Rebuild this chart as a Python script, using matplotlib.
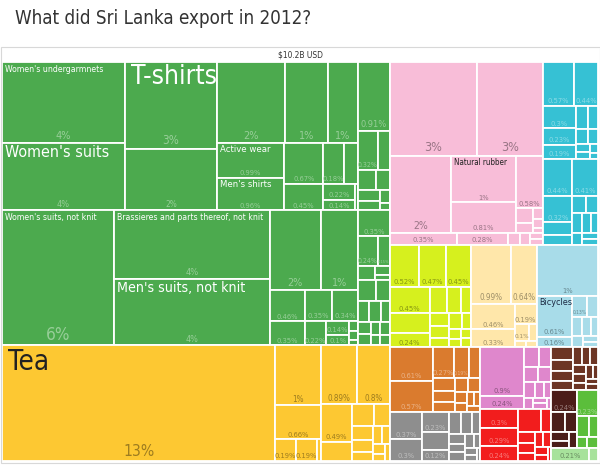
import matplotlib
matplotlib.use("Agg")
import matplotlib.pyplot as plt
import matplotlib.colors as mcolors
from matplotlib.patches import Rectangle

plt.rcParams['font.family'] = ['DejaVu Sans']
plt.rcParams['font.stretch'] = 'condensed'

TITLE = "What did Sri Lanka export in 2012?"
TOTAL_LABEL = "$10.2B USD"

# =========================
# DATA  (share of total exports, %)
# =========================

# textiles
knit_values = [4.17, 3.5, 3.35, 2.36, 2.30, 1.46, 1.03, 1.0, 0.91, 0.68, 0.43, 0.36, 0.24, 0.22, 0.14, 0.03]
knit_pcts = ["4%", "4%", "3%", "2%", "2%", "1%", "1%", "0.99%", "0.96%", "0.67%", "0.45%", "0.18%", "", "0.22%", "0.14%", ""]
knit_names = {0: "Women's undergarmnets", 1: "Women's suits", 2: "T-shirts", 7: "Active wear", 8: "Men's shirts"}

woven_values = [6.34, 4.51, 4.35, 1.71, 1.25, 0.46, 0.35, 0.35, 0.34, 0.22, 0.14, 0.1, 0.04, 0.03, 0.02]
woven_pcts = ["6%", "4%", "4%", "2%", "1%", "0.46%", "0.35%", "0.35%", "0.34%", "0.22%", "0.14%", "0.1%", "", "", ""]
woven_names = {0: "Women's suits, not knit", 1: "Brassieres and parts thereof, not knit", 2: "Men's suits, not knit"}

tex_a_values = [0.91, 0.32, 0.2, 0.15, 0.12, 0.1, 0.08, 0.05, 0.03]
tex_a_pcts = ["0.91%", "0.32%", "", "", "", "", "", "", ""]
tex_b_values = [0.35, 0.24, 0.15, 0.1, 0.06, 0.03]
tex_b_pcts = ["0.35%", "0.24%", "0.15%", "", "", ""]
tex_c_values = [0.15, 0.12, 0.1, 0.1, 0.08, 0.07, 0.06, 0.05, 0.05, 0.04, 0.04]

# vegetable products
tea_values = [13.32, 1.16, 0.66, 0.19, 0.19, 0.04]
tea_pcts = ["13%", "1%", "0.66%", "0.19%", "0.19%", ""]
tea_names = {0: "Tea"}
veg_values = [0.89, 0.81, 0.49, 0.25, 0.2, 0.15, 0.12, 0.1, 0.08, 0.07, 0.06, 0.05, 0.04, 0.03]
veg_pcts = ["0.89%", "0.8%", "0.49%"]

# rubber / plastics
rubber_values = [3.47, 2.6, 1.98, 1.26, 0.83, 0.6, 0.1, 0.07, 0.05, 0.04, 0.02]
rubber_pcts = ["3%", "3%", "2%", "1%", "0.81%", "0.58%"]
rubber_names = {3: "Natural rubber"}
plastic_values = [0.34, 0.26, 0.06, 0.05, 0.04, 0.03]
plastic_pcts = ["0.35%", "0.28%"]

# machines
mach_a_values = [0.57, 0.44, 0.3, 0.23, 0.19, 0.12, 0.1, 0.08, 0.06, 0.05, 0.04, 0.03, 0.02]
mach_a_pcts = ["0.57%", "0.44%", "0.3%", "0.23%", "0.19%"]
mach_b_values = [0.44, 0.41, 0.32, 0.15, 0.12, 0.1, 0.09, 0.08, 0.07, 0.06, 0.05, 0.04, 0.04]
mach_b_pcts = ["0.44%", "0.41%", "0.32%"]

# smaller sectors
lime_values = [0.52, 0.47, 0.45, 0.45, 0.33, 0.24, 0.2, 0.15, 0.12, 0.1, 0.1, 0.08, 0.08, 0.06, 0.05, 0.04, 0.04, 0.04]
lime_pcts = ["0.52%", "0.47%", "0.45%", "0.45%", "", "0.24%"]
tan_values = [0.99, 0.64, 0.46, 0.33, 0.19, 0.1, 0.05, 0.03, 0.03]
tan_pcts = ["0.99%", "0.64%", "0.46%", "0.33%", "0.19%", "0.1%"]
transport_values = [1.32, 0.61, 0.16, 0.13, 0.1, 0.08, 0.07, 0.06, 0.05, 0.04, 0.03]
transport_pcts = ["1%", "0.61%", "0.16%", "0.13%"]
transport_names = {1: "Bicycles"}
orange_values = [0.61, 0.57, 0.27, 0.19, 0.15, 0.12, 0.1, 0.09, 0.08, 0.07, 0.06, 0.05, 0.04, 0.04, 0.03]
orange_pcts = ["0.61%", "0.57%", "0.27%", "0.19%", "0.15%"]
grey_values = [0.37, 0.3, 0.23, 0.2, 0.12, 0.11, 0.1, 0.08, 0.07, 0.06, 0.06, 0.05, 0.04, 0.03, 0.03, 0.02]
grey_pcts = ["0.37%", "0.3%", "0.23%", "", "0.12%", "0.11%"]
violet_values = [0.9, 0.24, 0.12, 0.1, 0.09, 0.08, 0.07, 0.06, 0.05, 0.04, 0.03, 0.03, 0.02]
violet_pcts = ["0.9%", "0.24%"]
red_values = [0.3, 0.29, 0.24, 0.22, 0.1, 0.08, 0.07, 0.06, 0.05, 0.05, 0.04, 0.03, 0.02]
red_pcts = ["0.3%", "0.29%", "0.24%"]
brown_values = [0.12, 0.1, 0.09, 0.08, 0.07, 0.06, 0.06, 0.05, 0.05, 0.04, 0.04, 0.03, 0.03, 0.03]
dkbrown_values = [0.24, 0.12, 0.1, 0.07, 0.05, 0.05]
dkbrown_pcts = ["0.24%"]
bgreen_values = [0.23, 0.1, 0.08, 0.05, 0.05]
bgreen_pcts = ["0.23%"]
lgreen_values = [0.21, 0.05]
lgreen_pcts = ["0.21%"]

# sector colour + its product groups (values, share labels, names)
sectors = [
    ("#4CAA4E", [(knit_values, knit_pcts, knit_names), (woven_values, woven_pcts, woven_names),
                 (tex_a_values, tex_a_pcts, {}), (tex_b_values, tex_b_pcts, {}), (tex_c_values, [], {})]),
    ("#FDC832", [(tea_values, tea_pcts, tea_names), (veg_values, veg_pcts, {})]),
    ("#F8BDD8", [(rubber_values, rubber_pcts, rubber_names), (plastic_values, plastic_pcts, {})]),
    ("#36C1D4", [(mach_a_values, mach_a_pcts, {}), (mach_b_values, mach_b_pcts, {})]),
    ("#D6F01E", [(lime_values, lime_pcts, {})]),
    ("#FFE7AA", [(tan_values, tan_pcts, {})]),
    ("#A8DCE9", [(transport_values, transport_pcts, transport_names)]),
    ("#DA7B2E", [(orange_values, orange_pcts, {})]),
    ("#8E8E8E", [(grey_values, grey_pcts, {})]),
    ("#DF87CC", [(violet_values, violet_pcts, {})]),
    ("#F21D1D", [(red_values, red_pcts, {})]),
    ("#6C3524", [(brown_values, [], {})]),
    ("#4B1D19", [(dkbrown_values, dkbrown_pcts, {})]),
    ("#5BBE3B", [(bgreen_values, bgreen_pcts, {})]),
    ("#A7E29B", [(lgreen_values, lgreen_pcts, {})]),
]

name_style = {
    "Women's undergarmnets": (6.2, "white"),
    "Women's suits": (11.5, "white"),
    "T-shirts": (19, "white"),
    "Active wear": (6.8, "white"),
    "Men's shirts": (6.8, "white"),
    "Women's suits, not knit": (6.2, "white"),
    "Brassieres and parts thereof, not knit": (6.2, "white"),
    "Men's suits, not knit": (10.2, "white"),
    "Tea": (20, "#222222"),
    "Natural rubber": (5.8, "#222222"),
    "Bicycles": (6.5, "#1d2b44"),
}

# =========================
# SQUARIFIED LAYOUT (d3 style, golden ratio)
# =========================
PHI = 0.5 * (1 + 5 ** 0.5)


def worst(areas, u):
    s = sum(areas)
    return max(u * u * max(areas) * PHI / (s * s), s * s / (u * u * min(areas) * PHI))


def place(row, areas, u, rect, flush, out):
    x, y, w, h = rect
    total = sum(areas[i] for i in row)
    v = total / u
    if u == w:
        if flush or v > h:
            v = h
        cx = x
        for n, i in enumerate(row):
            dw = x + w - cx if n == len(row) - 1 else areas[i] / v
            out[i] = (cx, y, dw, v)
            cx += dw
        rect[1] += v
        rect[3] -= v
    else:
        if flush or v > w:
            v = w
        cy = y
        for n, i in enumerate(row):
            dh = y + h - cy if n == len(row) - 1 else areas[i] / v
            out[i] = (x, cy, v, dh)
            cy += dh
        rect[0] += v
        rect[2] -= v


def squarify(values, x, y, w, h):
    scale = w * h / sum(values)
    areas = [v * scale for v in values]
    order = sorted(range(len(values)), key=lambda i: -values[i])
    out = [None] * len(values)
    rect = [x, y, w, h]
    row, best, k = [], float("inf"), 0
    while k < len(order):
        u = min(rect[2], rect[3])
        cand = row + [order[k]]
        score = worst([areas[i] for i in cand], u)
        if score <= best:
            row, best = cand, score
            k += 1
        else:
            place(row, areas, u, rect, False, out)
            row, best = [], float("inf")
    if row:
        place(row, areas, min(rect[2], rect[3]), rect, True, out)
    return out


def share_color(c):
    r, g, b = mcolors.to_rgb(c)
    lum = 0.299 * r + 0.587 * g + 0.114 * b
    if lum > 0.62:
        return (r * 0.62, g * 0.62, b * 0.62)
    return (r + (1 - r) * 0.42, g + (1 - g) * 0.42, b + (1 - b) * 0.42)


# =========================
# DRAW
# =========================
fig = plt.figure(figsize=(6.0, 4.66), dpi=100)
ax = fig.add_axes([0, 0, 1, 1])
ax.set_xlim(0, 600)
ax.set_ylim(466, 0)
ax.axis("off")

X0, Y0, W, H = 2, 62, 596, 399

sector_totals = [sum(sum(g[0]) for g in groups) for _, groups in sectors]
sector_rects = squarify(sector_totals, X0, Y0, W, H)

for (color, groups), (sx, sy, sw, sh) in zip(sectors, sector_rects):
    group_rects = squarify([sum(g[0]) for g in groups], sx, sy, sw, sh)
    tcol = share_color(color)
    for (vals, pcts, names), (gx, gy, gw, gh) in zip(groups, group_rects):
        leaf_rects = squarify(vals, gx, gy, gw, gh)
        for i, (x, y, w, h) in enumerate(leaf_rects):
            ax.add_patch(Rectangle((x, y), w, h, facecolor=color, edgecolor="white", linewidth=1.3))
            pct = pcts[i] if i < len(pcts) else ""
            if pct:
                # share label sized to the box, kept inside it
                em = min(max(7.5, 0.135 * h), (w - 2) / (0.5 * len(pct)), h / 1.15, 17)
                if em >= 4:
                    ax.text(x + w / 2, y + h - 1.5, pct, ha="center", va="bottom",
                            fontsize=em * 0.72, color=tcol)
            if i in names:
                fs, fc = name_style[names[i]]
                pad = 6 if fs > 15 else 3
                ax.text(x + pad, y + 2.5, names[i], ha="left", va="top", fontsize=fs, color=fc)

ax.add_patch(Rectangle((0.5, 47), 599, 416, fill=False, edgecolor="#d8d8d8", linewidth=0.8))
ax.text(X0 + W / 2, 55, TOTAL_LABEL, ha="center", va="center", fontsize=6, color="#333333")
ax.text(15, 19, TITLE, ha="left", va="center", fontsize=13.5, color="#333333")

fig.savefig("out.png", dpi=100)
